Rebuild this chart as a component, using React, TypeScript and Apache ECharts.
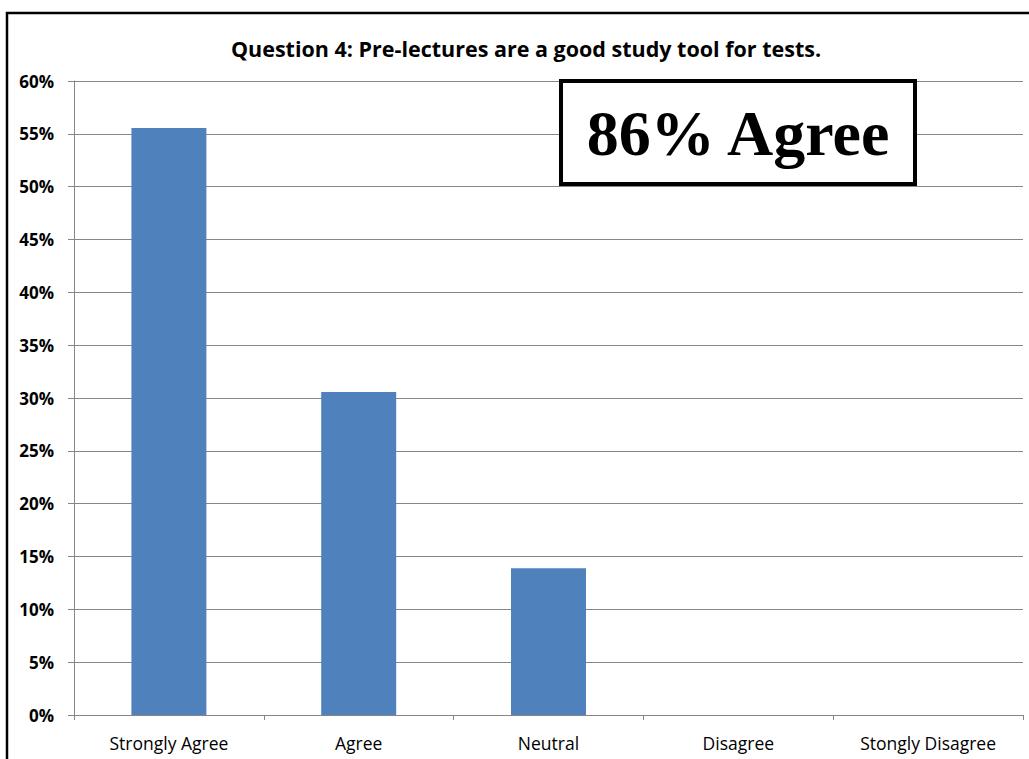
import React, { useEffect, useRef } from "react";
import * as echarts from "echarts";

const categories = ["Strongly Agree", "Agree", "Neutral", "Disagree", "Stongly Disagree"];
const values = [0.5556, 0.3056, 0.1389, 0, 0];
const titleText = "Question 4: Pre-lectures are a good study tool for tests.";
const annotationText = "86% Agree";

export default function App() {
  const ref = useRef<HTMLDivElement>(null);
  useEffect(() => {
    if (!ref.current) return;
    const chart = echarts.init(ref.current, null, { renderer: "svg" });
    chart.setOption({
      animation: false,
      backgroundColor: "#ffffff",
      title: {
        text: titleText,
        left: 521,
        textAlign: "center",
        top: 32,
        textStyle: { fontFamily: "Open Sans", fontWeight: "bold", fontSize: 21.5, color: "#000" },
      },
      grid: { left: 74, right: 6, top: 81, bottom: 44, containLabel: false },
      xAxis: {
        type: "category",
        data: categories,
        axisLine: { lineStyle: { color: "#868686", width: 1 } },
        axisTick: { show: true, length: 5, lineStyle: { color: "#868686" } },
        axisLabel: { color: "#000", fontFamily: "Open Sans", fontSize: 17.5, margin: 19 },
      },
      yAxis: {
        type: "value",
        min: 0,
        max: 0.6,
        interval: 0.05,
        axisLine: { show: true, lineStyle: { color: "#868686", width: 1 } },
        axisTick: { show: true, length: 6, lineStyle: { color: "#868686" } },
        splitLine: { show: true, lineStyle: { color: "#868686", width: 1 } },
        axisLabel: {
          color: "#000",
          fontFamily: "Open Sans",
          fontWeight: "bold",
          fontSize: 17,
          margin: 20,
          formatter: (v: number) => Math.round(v * 100) + "%",
        },
      },
      series: [
        {
          type: "bar",
          data: values,
          barWidth: "39.5%",
          itemStyle: { color: "#4F81BD", borderWidth: 0 },
        },
      ],
      graphic: [
        {
          type: "rect",
          shape: { x: 7, y: 13, width: 1100, height: 900 },
          style: { fill: "none", stroke: "#000", lineWidth: 2.5 },
          silent: true,
          z: 100,
        },
        {
          type: "rect",
          shape: { x: 561, y: 81, width: 354, height: 103 },
          style: { fill: "#fff", stroke: "#000", lineWidth: 4 },
          z: 100,
        },
        {
          type: "text",
          x: 738,
          y: 133,
          style: {
            text: annotationText,
            font: "bold 64px 'Liberation Serif'",
            fill: "#000",
            align: "center",
            verticalAlign: "middle",
          },
          z: 101,
        },
      ],
    });
    return () => chart.dispose();
  }, []);
  return (
    <div
      ref={ref}
      style={{ position: "fixed", left: 0, top: 0, width: 1029, height: 759 }}
    />
  );
}
